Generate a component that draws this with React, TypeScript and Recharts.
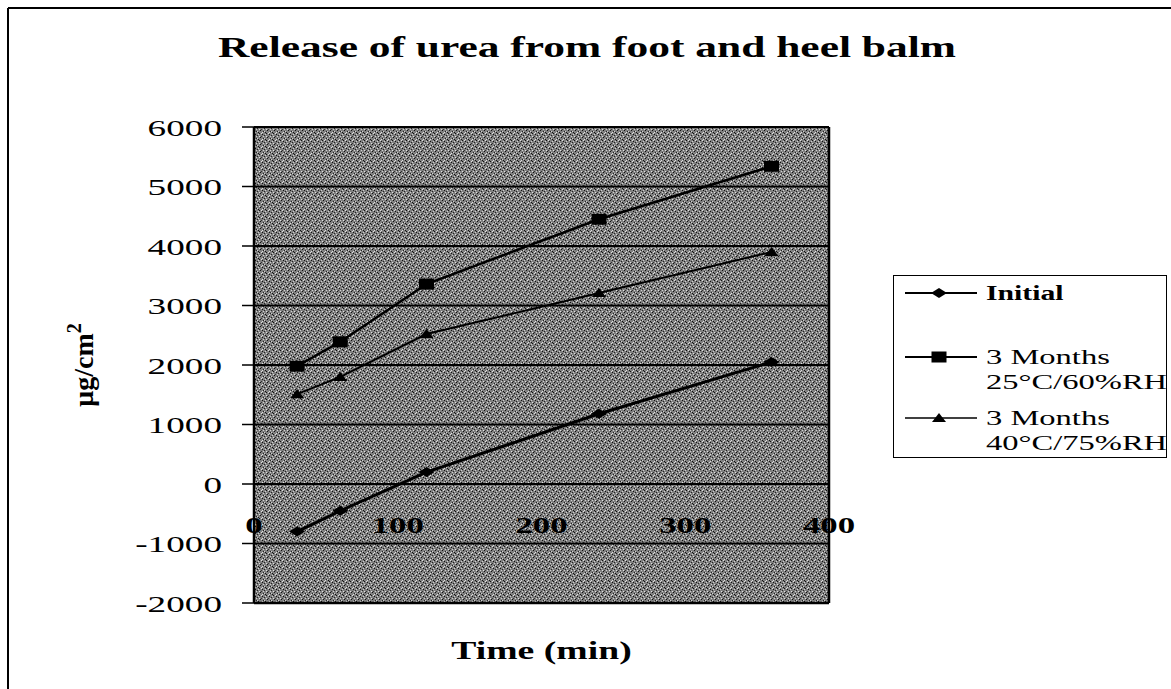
import { LineChart, Line, XAxis, YAxis, CartesianGrid, ReferenceLine, Legend } from "recharts";

const W = 1171;
const H = 689;

const times = [30, 60, 120, 240, 360];
const initial = [-800, -450, 200, 1180, 2050];
const months25 = [1980, 2390, 3360, 4450, 5340];
const months40 = [1510, 1800, 2520, 3210, 3900];

const xTicks = [0, 100, 200, 300, 400];
const yTicks = [-2000, -1000, 0, 1000, 2000, 3000, 4000, 5000, 6000];
const seriesKeys = ["initial", "m25", "m40"];
const seriesLabels = [["Initial"], ["3 Months", "25°C/60%RH"], ["3 Months", "40°C/75%RH"]];

// plot box in page pixels
const PLOT = { left: 254, top: 127, right: 829, bottom: 603 };
const Y_MIN = -2000;
const Y_MAX = 6000;
const zeroY = PLOT.top + ((PLOT.bottom - PLOT.top) * Y_MAX) / (Y_MAX - Y_MIN);
const SERIF = "'Liberation Serif', 'Times New Roman', serif";

// grain of the scanned grey fill: [x, y, colour] inside a 7x7 tile
const grain: [number, number, string][] = [
  [0, 0, "#111"], [3, 1, "#111"], [5, 2, "#222"], [1, 4, "#111"], [4, 5, "#222"], [6, 6, "#111"], [2, 3, "#333"],
  [2, 0, "#e0e0e0"], [6, 1, "#d0d0d0"], [0, 3, "#e0e0e0"], [4, 3, "#d0d0d0"], [3, 6, "#e0e0e0"], [5, 5, "#d0d0d0"],
];

// the scan is stretched sideways, so text gets a horizontal scale
function SText({ x, y, sx = 1.5, size, bold = false, anchor = "start", children }: any) {
  return (
    <text
      transform={`translate(${x},${y}) scale(${sx},1)`}
      textAnchor={anchor}
      fontFamily={SERIF}
      fontSize={size}
      fontWeight={bold ? 700 : 400}
      fill="#000"
    >
      {children}
    </text>
  );
}

function marker(i: number, cx: number, cy: number, key?: string) {
  if (i === 0)
    return <polygon key={key} points={`${cx - 8},${cy} ${cx},${cy - 5} ${cx + 8},${cy} ${cx},${cy + 5}`} fill="#000" />;
  if (i === 1) return <rect key={key} x={cx - 7.5} y={cy - 5.5} width={15} height={11} fill="#000" />;
  return <polygon key={key} points={`${cx - 7},${cy + 4} ${cx},${cy - 5} ${cx + 7},${cy + 4}`} fill="#000" />;
}

function XTick({ x, payload }: any) {
  return (
    <SText x={x} y={zeroY + 49} size={24} bold sx={1.45} anchor="middle">
      {payload.value}
    </SText>
  );
}

function YTick({ x, y, payload }: any) {
  return (
    <SText x={x} y={y + 8.5} size={24} sx={1.55} anchor="end">
      {payload.value}
    </SText>
  );
}

const rowY = [18, 82, 143];

function LegendBox() {
  return (
    <svg width={274} height={183} style={{ display: "block" }}>
      <rect x={0.5} y={0.5} width={273} height={182} fill="#fff" stroke="#000" strokeWidth={1} />
      {seriesLabels.map((lines, i) => (
        <g key={i}>
          <line x1={12} x2={84} y1={rowY[i]} y2={rowY[i]} stroke="#000" strokeWidth={i === 2 ? 1.5 : 2} />
          {marker(i, 46, rowY[i])}
          {lines.map((ln, j) => (
            <SText key={j} x={93} y={rowY[i] + 7 + j * 25} size={i === 0 ? 22 : 21} bold={i === 0} sx={i === 0 ? 1.35 : 1.55}>
              {ln}
            </SText>
          ))}
        </g>
      ))}
    </svg>
  );
}

export default function App() {
  const data = times.map((t, i) => ({ t, initial: initial[i], m25: months25[i], m40: months40[i] }));
  const widths = [3, 2.5, 2];

  return (
    <div style={{ position: "absolute", left: 0, top: 0, width: W, height: H, background: "#fff", overflow: "hidden" }}>
      <svg width={0} height={0} style={{ position: "absolute" }}>
        <defs>
          <pattern id="dither" width={7} height={7} patternUnits="userSpaceOnUse">
            <rect width={7} height={7} fill="#808080" />
            {grain.map(([gx, gy, c], i) => (
              <rect key={i} x={gx} y={gy} width={1} height={1} fill={c} />
            ))}
          </pattern>
        </defs>
      </svg>
      <LineChart
        width={W}
        height={H}
        data={data}
        margin={{ top: PLOT.top, right: W - PLOT.right, bottom: H - PLOT.bottom - 30, left: PLOT.left - 100 }}
      >
        <CartesianGrid vertical={false} fill="url(#dither)" fillOpacity={1} stroke="#000" strokeWidth={1.8} />
        <XAxis
          type="number"
          dataKey="t"
          domain={[0, 400]}
          ticks={xTicks}
          interval={0}
          height={30}
          axisLine={{ stroke: "#000", strokeWidth: 2.5 }}
          tickLine={false}
          tick={<XTick />}
        />
        <YAxis
          type="number"
          domain={[Y_MIN, Y_MAX]}
          ticks={yTicks}
          interval={0}
          width={100}
          axisLine={{ stroke: "#000", strokeWidth: 2.5 }}
          tickLine={{ stroke: "#000", strokeWidth: 1.5 }}
          tickSize={12}
          tickMargin={20}
          tick={<YTick />}
        />
        <ReferenceLine x={400} stroke="#000" strokeWidth={2.5} />
        {seriesKeys.map((k, i) => (
          <Line
            key={k}
            type="linear"
            dataKey={k}
            name={seriesLabels[i].join(" ")}
            stroke="#000"
            strokeWidth={widths[i]}
            dot={(p: any) => marker(i, p.cx, p.cy, `${k}-${p.index}`)}
            activeDot={false}
            isAnimationActive={false}
          />
        ))}
        <Legend
          layout="horizontal"
          verticalAlign="middle"
          align="center"
          content={() => <LegendBox />}
          wrapperStyle={{ left: 893, top: 275, width: 274, height: 183 }}
        />
      </LineChart>

      <svg width={W} height={H} style={{ position: "absolute", left: 0, top: 0, pointerEvents: "none" }}>
        <line x1={8} y1={8} x2={W} y2={8} stroke="#000" strokeWidth={2} />
        <line x1={8} y1={8} x2={8} y2={H} stroke="#000" strokeWidth={2} />
        <text
          x={587}
          y={57}
          textAnchor="middle"
          fontFamily={SERIF}
          fontSize={29}
          fontWeight={700}
          textLength={738}
          lengthAdjust="spacingAndGlyphs"
        >
          Release of urea from foot and heel balm
        </text>
        <SText x={(PLOT.left + PLOT.right) / 2} y={659} size={26} bold sx={1.45} anchor="middle">
          Time (min)
        </SText>
        <text
          transform={`translate(93,${(PLOT.top + PLOT.bottom) / 2}) rotate(-90)`}
          textAnchor="middle"
          fontFamily={SERIF}
          fontSize={28}
          fontWeight={700}
        >
          μg/cm
          <tspan fontSize={20} dy={-12}>
            2
          </tspan>
        </text>
      </svg>
    </div>
  );
}
